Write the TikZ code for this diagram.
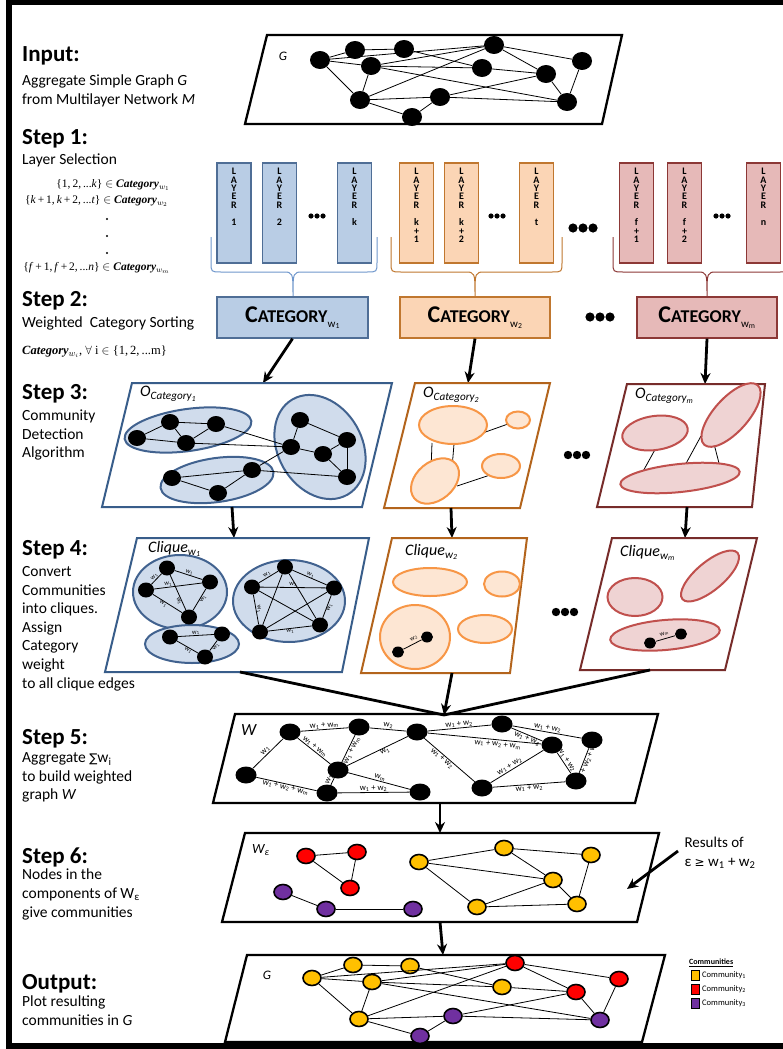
\documentclass[tikz,border=0pt]{standalone}
\usepackage{fontspec}
\setmainfont{Carlito}
\newfontfamily\tms{Liberation Serif}
\newfontfamily\djv{DejaVu Sans}
\usetikzlibrary{shapes.geometric,arrows.meta}
\definecolor{bfill}{HTML}{B9CDE5}
\definecolor{bdraw}{HTML}{4F6E96}
\definecolor{bline}{HTML}{385D8A}
\definecolor{bell}{HTML}{D0DCEC}
\definecolor{bedge}{HTML}{41628F}
\definecolor{bbrace}{HTML}{6F97CC}
\definecolor{ofill}{HTML}{FBD5B5}
\definecolor{odraw}{HTML}{C0772F}
\definecolor{oline}{HTML}{B3641C}
\definecolor{oell}{HTML}{FDE6D3}
\definecolor{oedge}{HTML}{F79646}
\definecolor{rfill}{HTML}{E6B9B8}
\definecolor{rdraw}{HTML}{8C3836}
\definecolor{rline}{HTML}{772C2A}
\definecolor{rell}{HTML}{EFD3D3}
\definecolor{redge}{HTML}{C0504D}
\definecolor{cyel}{HTML}{FFC000}
\definecolor{cred}{HTML}{FF0000}
\definecolor{cpur}{HTML}{7030A0}
\newcommand\threedots[4]{\fill (#1-#4,#2) circle[radius=#3]; \fill (#1,#2) circle[radius=#3]; \fill (#1+#4,#2) circle[radius=#3];}
\newcommand\catlab[1]{\textbf{{\fontsize{24}{24}\selectfont C}{\fontsize{18}{18}\selectfont ATEGORY}}\raisebox{-5pt}{\fontsize{11}{11}\selectfont w\textsubscript{#1}}}
\newcommand\wsub[1]{w\textsubscript{#1}}
\newcommand\catw[1]{{\tms\bfseries\itshape Category}$_{w_{#1}}$}
\tikzset{
  head/.style={anchor=west,inner sep=0,font=\fontsize{23}{25}\selectfont\bfseries},
  sub/.style={anchor=west,inner sep=0,align=left,font=\fontsize{15.5}{18.6}\selectfont},
  mth/.style={inner sep=0,font=\tms\fontsize{11.5}{13}\selectfont},
  bn/.style={ellipse,fill=black,inner sep=0,minimum width=20,minimum height=18},
  sn/.style={ellipse,fill=black,inner sep=0,minimum width=18,minimum height=16},
  kn/.style={ellipse,fill=black,inner sep=0,minimum width=16,minimum height=15},
  tn/.style={ellipse,fill=black,inner sep=0,minimum width=12,minimum height=11},
  wn/.style={ellipse,fill=black,inner sep=0,minimum width=21,minimum height=17},
  cn/.style={ellipse,draw=black,line width=1.6,inner sep=0,minimum width=18,minimum height=15},
  ed/.style={line width=0.8},
  panel/.style={line width=2.3,line join=miter},
  bigarrow/.style={line width=2.8,-{Stealth[length=11,width=10]}},
  lbar/.style={rectangle,inner sep=0,minimum width=34,minimum height=100,line width=1.3},
  ltxt/.style={anchor=north,inner sep=0,align=center,font=\fontsize{10}{8.4}\selectfont\bfseries},
  catbox/.style={rectangle,inner sep=0,minimum height=41,line width=1.3},
  wl/.style={font=\fontsize{8.5}{8.5}\selectfont,inner sep=0.6,sloped},
  ws/.style={font=\fontsize{6.5}{6.5}\selectfont,inner sep=0.3,sloped},
  ttl/.style={anchor=west,inner sep=0,font=\fontsize{16}{16}\selectfont\itshape},
}
\begin{document}
\begin{tikzpicture}[x=1pt,y=-1pt]
\useasboundingbox (0,0) rectangle (783,1049);
\clip (0,0) rectangle (783,1049);
\fill[white] (0,0) rectangle (783,1049);
\draw[line width=6] (9,2) rectangle (805,1046);

% ---------------- left column ----------------
\node[head] (h0) at (22,56) {Input:};
\node[sub] (s0) at (22,91) {Aggregate Simple Graph \textit{G}\\from Multilayer Network \textit{M}};
\node[head] (h1) at (22,139) {Step 1:};
\node[sub] (s1) at (22,160) {Layer Selection};
\node[mth,anchor=east] (m1) at (170,185) {\{1,\,2,\,...\textit{k}\} $\in$ \catw{1}};
\node[mth,anchor=east] (m2) at (168,201) {\{\textit{k}\,+\,1,\,\textit{k}\,+\,2,\,...\textit{t}\} $\in$ \catw{2}};
\fill (107,219) circle[radius=1.1]; \fill (107,236) circle[radius=1.1]; \fill (107,253) circle[radius=1.1];
\node[mth,anchor=east] (m3) at (170,268) {\{\textit{f}\,+\,1,\,\textit{f}\,+\,2,\,...\textit{n}\} $\in$ \catw{m}};
\node[head] (h2) at (22,301) {Step 2:};
\node[sub] (s2) at (22,323) {Weighted\ \ Category Sorting};
\node[mth,anchor=west,font=\tms\fontsize{12.5}{14}\selectfont] (m5) at (22,352) {\catw{i}, $\forall$ i $\in$ \{1,\,2,\,...m\}};
\node[head] (h3) at (22,394) {Step 3:};
\node[sub] (s3) at (22,435) {Community\\Detection\\Algorithm};
\node[head] (h4) at (22,550) {Step 4:};
\node[sub] (s4) at (22,628.5) {Convert\\Communities\\into cliques.\\Assign\\Category\\weight\\to all clique edges};
\node[head] (h5) at (22,739) {Step 5:};
\node[sub] (s5) at (22,777.5) {Aggregate {\djv\fontsize{12}{12}\selectfont ∑}w\textsubscript{i}\\to build weighted\\graph \textit{W}};
\node[head] (h6) at (22,857) {Step 6:};
\node[sub] (s6) at (22,894.5) {Nodes in the\\components of W\textsubscript{ε}\\give communities};
\node[head] (h7) at (22,984) {Output:};
\node[sub] (s7) at (22,1010.5) {Plot resulting\\communities in \textit{G}};

% ---------------- Input graph ----------------
\draw[panel] (267,35) -- (622,35) -- (602,124) -- (245,124) -- cycle;
\node[inner sep=0,font=\fontsize{13}{13}\selectfont\itshape] (gin) at (283,56) {G};
\node[bn] (n1) at (320,60) {};
\node[bn] (n2) at (355,50) {};
\node[bn] (n3) at (404,49) {};
\node[bn] (n4) at (494,45) {};
\node[bn] (n5) at (582,61) {};
\node[bn] (n6) at (371,66) {};
\node[bn] (n7) at (482,68) {};
\node[bn] (n8) at (546,74) {};
\node[bn] (n9) at (360,100) {};
\node[bn] (n10) at (440,97) {};
\node[bn] (n11) at (567,102) {};
\node[bn] (n12) at (412,117) {};
\foreach \a/\b in {n1/n2,n2/n3,n1/n6,n1/n9,n1/n4,n3/n7,n6/n7,n6/n4,n6/n9,n6/n11,n4/n5,n4/n8,n4/n9,n7/n8,n8/n10,n8/n11,n5/n11,n9/n10,n9/n12,n10/n12,n10/n11}
  \draw[ed] (\a) -- (\b);

% ---------------- Step 1 layers ----------------
\node[lbar,fill=bfill,draw=bdraw] (lb1) at (234,213) {};
\node[lbar,fill=bfill,draw=bdraw] (lb2) at (279.5,213) {};
\node[lbar,fill=bfill,draw=bdraw] (lb3) at (354.5,213) {};
\node[ltxt] (tb1) at (234,168) {L\\A\\Y\\E\\R\\[9pt]1};
\node[ltxt] (tb2) at (279.5,168) {L\\A\\Y\\E\\R\\[9pt]2};
\node[ltxt] (tb3) at (354.5,168) {L\\A\\Y\\E\\R\\[9pt]k};
\threedots{317}{216}{2.6}{6}
\node[lbar,fill=ofill,draw=odraw] (lo1) at (416.5,213) {};
\node[lbar,fill=ofill,draw=odraw] (lo2) at (461.5,213) {};
\node[lbar,fill=ofill,draw=odraw] (lo3) at (536.5,213) {};
\node[ltxt] (to1) at (416.5,168) {L\\A\\Y\\E\\R\\[9pt]k\\+\\1};
\node[ltxt] (to2) at (461.5,168) {L\\A\\Y\\E\\R\\[9pt]k\\+\\2};
\node[ltxt] (to3) at (536.5,168) {L\\A\\Y\\E\\R\\[9pt]t};
\threedots{497}{216}{2.6}{6}
\threedots{583}{228}{4.6}{10}
\node[lbar,fill=rfill,draw=rdraw] (lr1) at (636.5,213) {};
\node[lbar,fill=rfill,draw=rdraw] (lr2) at (684.5,213) {};
\node[lbar,fill=rfill,draw=rdraw] (lr3) at (763.5,213) {};
\node[ltxt] (tr1) at (636.5,168) {L\\A\\Y\\E\\R\\[9pt]f\\+\\1};
\node[ltxt] (tr2) at (684.5,168) {L\\A\\Y\\E\\R\\[9pt]f\\+\\2};
\node[ltxt] (tr3) at (763.5,168) {L\\A\\Y\\E\\R\\[9pt]n};
\threedots{722}{216}{2.6}{6}

% braces
\draw[bbrace,line width=1] (211,237) -- (211,262) .. controls (211,272) .. (221,272) -- (283,272) .. controls (293,272) .. (293,297) .. controls (293,272) .. (303,272) -- (367,272) .. controls (377,272) .. (377,262) -- (377,237);
\draw[odraw,line width=1] (391,237) -- (391,262) .. controls (391,272) .. (401,272) -- (465,272) .. controls (475,272) .. (475,297) .. controls (475,272) .. (485,272) -- (552,272) .. controls (562,272) .. (562,262) -- (562,237);
\draw[rdraw,line width=1] (613,237) -- (613,262) .. controls (613,272) .. (623,272) -- (697,272) .. controls (707,272) .. (707,297) .. controls (707,272) .. (717,272) -- (780,272) .. controls (790,272) .. (790,262) -- (790,237);

% ---------------- Step 2 categories ----------------
\node[catbox,fill=bfill,draw=bdraw,minimum width=151] (cb) at (292.5,317.5) {\catlab{1}};
\node[catbox,fill=ofill,draw=odraw,minimum width=150] (co) at (475,317.5) {\catlab{2}};
\node[catbox,fill=rfill,draw=rdraw,minimum width=140] (cr) at (707,317.5) {\catlab{m}};
\threedots{600}{317}{4.6}{10}

\coordinate (a3b) at (263,383);
\coordinate (a3o) at (468,383);
\coordinate (a3r) at (705,384);
\draw[bigarrow] (cb.south) -- (a3b);
\draw[bigarrow] (co.south) -- (a3o);
\draw[bigarrow] (cr.south) -- (a3r);

% ---------------- Step 3 ----------------
\draw[panel,draw=bline,line width=2] (132,383) -- (392,383) -- (362,507) -- (102,507) -- cycle;
\node[ttl] (o1) at (140,394) {O\textsubscript{Category\textsubscript{1}}};
\filldraw[fill=bell,draw=bedge,line width=2,rotate around={8:(188,430)}] (188,430) ellipse [x radius=64,y radius=21];
\filldraw[fill=bell,draw=bedge,line width=2,rotate around={-60:(320,447)}] (320,447) ellipse [x radius=55,y radius=42];
\filldraw[fill=bell,draw=bedge,line width=2,rotate around={8:(217,480)}] (217,480) ellipse [x radius=57,y radius=22];
\node[sn] (u1) at (137,438) {};
\node[sn] (u2) at (170,422) {};
\node[sn] (u3) at (216,424) {};
\node[sn] (u4) at (186,443) {};
\node[sn] (u5) at (300,420) {};
\node[sn] (u6) at (347,440) {};
\node[sn] (u7) at (291,447) {};
\node[sn] (u8) at (323,454) {};
\node[sn] (u9) at (347,477) {};
\node[sn] (u10) at (172,478) {};
\node[sn] (u11) at (252,470) {};
\node[sn] (u12) at (218,493) {};
\foreach \a/\b in {u1/u2,u2/u3,u2/u4,u4/u3,u1/u4,u3/u7,u4/u7,u5/u6,u5/u7,u7/u8,u8/u6,u6/u9,u8/u9,u10/u11,u10/u12,u12/u11,u11/u7,u11/u9}
  \draw[ed] (\a) -- (\b);

\draw[panel,draw=oline,line width=2] (415,383) -- (550,383) -- (520,508) -- (384,508) -- cycle;
\node[ttl] (o2) at (423,395) {O\textsubscript{Category\textsubscript{2}}};
\coordinate (oa1) at (477,435); \coordinate (oa2) at (508,424);
\coordinate (oa3) at (432,443); \coordinate (oa4) at (431,470);
\coordinate (oa5) at (454,444); \coordinate (oa6) at (452,468);
\coordinate (oa7) at (457,486); \coordinate (oa8) at (490,475);
\draw[ed] (oa1) -- (oa2); \draw[ed] (oa3) -- (oa4); \draw[ed] (oa5) -- (oa6); \draw[ed] (oa7) -- (oa8);
\filldraw[fill=oell,draw=oedge,line width=2] (453,425) ellipse [x radius=34,y radius=19];
\filldraw[fill=oell,draw=oedge,line width=2] (518,420) ellipse [x radius=12,y radius=8.5];
\filldraw[fill=oell,draw=oedge,line width=2,rotate around={40:(435,481)}] (435,481) ellipse [x radius=27,y radius=19];
\filldraw[fill=oell,draw=oedge,line width=2] (501,466) ellipse [x radius=19,y radius=12];

\draw[panel,draw=rline,line width=2] (627,384) -- (765,384) -- (752,507) -- (597,507) -- cycle;
\node[ttl] (o3) at (635,396) {O\textsubscript{Category\textsubscript{m}}};
\coordinate (ra1) at (657,446); \coordinate (ra2) at (641,475);
\coordinate (ra3) at (701,436); \coordinate (ra4) at (683,469);
\coordinate (ra5) at (713,440); \coordinate (ra6) at (720,467);
\draw[ed] (ra1) -- (ra2); \draw[ed] (ra3) -- (ra4); \draw[ed] (ra5) -- (ra6);
\filldraw[fill=rell,draw=redge,line width=2,rotate around={8:(655,433)}] (655,433) ellipse [x radius=33,y radius=17];
\filldraw[fill=rell,draw=redge,line width=2,rotate around={48:(731,415)}] (731,415) ellipse [x radius=40,y radius=17];
\filldraw[fill=rell,draw=redge,line width=2,rotate around={6:(680,478)}] (680,478) ellipse [x radius=60,y radius=14];
\threedots{577}{455}{4.2}{9}

\coordinate (b3b) at (232,507); \coordinate (b4b) at (234,538);
\coordinate (b3o) at (451,508); \coordinate (b4o) at (452,538);
\coordinate (b3r) at (687,507); \coordinate (b4r) at (685,538);
\draw[bigarrow] (b3b) -- (b4b);
\draw[bigarrow] (b3o) -- (b4o);
\draw[bigarrow] (b3r) -- (b4r);

% ---------------- Step 4 ----------------
\draw[panel,draw=bline,line width=2] (137,538) -- (369,538) -- (342,672) -- (105,672) -- cycle;
\node[ttl] (c1t) at (148,549) {Clique\textsubscript{w\textsubscript{1}}};
\filldraw[fill=bell,draw=bedge,line width=2] (180,592) ellipse [x radius=47,y radius=37];
\filldraw[fill=bell,draw=bedge,line width=2] (289,601) ellipse [x radius=56,y radius=41];
\filldraw[fill=bell,draw=bedge,line width=2] (192,644) ellipse [x radius=47,y radius=19];
\node[kn] (q1) at (167,568) {};
\node[kn] (q2) at (210,582) {};
\node[kn] (q3) at (146,590) {};
\node[kn] (q4) at (189,617) {};
\draw[ed] (q1) -- node[ws,above]{\wsub{1}} (q2);
\draw[ed] (q1) -- node[ws,above]{\wsub{1}} (q3);
\draw[ed] (q3) -- node[ws,above,pos=0.3]{\wsub{1}} (q2);
\draw[ed] (q1) -- node[ws,below,pos=0.72]{\wsub{1}} (q4);
\draw[ed] (q2) -- node[ws,below,pos=0.4]{\wsub{1}} (q4);
\draw[ed] (q3) -- node[ws,below,pos=0.4]{\wsub{1}} (q4);
\node[kn] (p1) at (285,567) {};
\node[kn] (p2) at (334,588) {};
\node[kn] (p3) at (252,587) {};
\node[kn] (p4) at (260,632) {};
\node[kn] (p5) at (320,625) {};
\draw[ed] (p1) -- node[ws,above]{\wsub{1}} (p2);
\draw[ed] (p1) -- node[ws,above]{\wsub{1}} (p3);
\draw[ed] (p3) -- node[ws,above]{\wsub{1}} (p2);
\draw[ed] (p3) -- node[ws,above]{\wsub{1}} (p4);
\draw[ed] (p2) -- node[ws,below]{\wsub{1}} (p5);
\draw[ed] (p4) -- node[ws,below]{\wsub{1}} (p5);
\draw[ed] (p1) -- (p4); \draw[ed] (p1) -- (p5); \draw[ed] (p3) -- (p5); \draw[ed] (p2) -- (p4);
\node[kn] (t1) at (170,637) {};
\node[kn] (t2) at (222,634) {};
\node[kn] (t3) at (205,657) {};
\draw[ed] (t1) -- node[ws,above]{\wsub{1}} (t2);
\draw[ed] (t1) -- node[ws,below,pos=0.6]{\wsub{1}} (t3);
\draw[ed] (t2) -- node[ws,below,pos=0.45]{\wsub{1}} (t3);

\draw[panel,draw=oline,line width=2] (392,538) -- (527,538) -- (510,673) -- (361,673) -- cycle;
\node[ttl] (c2t) at (405,552) {Clique\textsubscript{w\textsubscript{2}}};
\filldraw[fill=oell,draw=oedge,line width=2] (430,582) ellipse [x radius=37,y radius=14];
\filldraw[fill=oell,draw=oedge,line width=2] (502,584) ellipse [x radius=18,y radius=12.5];
\filldraw[fill=oell,draw=oedge,line width=2] (415,637) ellipse [x radius=35,y radius=32];
\filldraw[fill=oell,draw=oedge,line width=2] (485,629) ellipse [x radius=27,y radius=14];
\node[tn] (v1) at (427,637) {};
\node[tn] (v2) at (398,652) {};
\draw[ed] (v2) -- node[ws,above,pos=0.7,yshift=2]{\wsub{2}} (v1);

\draw[panel,draw=rline,line width=2] (612,538) -- (757,538) -- (725,670) -- (580,670) -- cycle;
\node[ttl] (c3t) at (620,553) {Clique\textsubscript{w\textsubscript{m}}};
\filldraw[fill=rell,draw=redge,line width=2] (635,597) ellipse [x radius=27.5,y radius=19];
\filldraw[fill=rell,draw=redge,line width=2,rotate around={40:(710,576)}] (710,576) ellipse [x radius=36,y radius=14];
\filldraw[fill=rell,draw=redge,line width=2,rotate around={5:(665,635)}] (665,635) ellipse [x radius=55,y radius=15];
\node[tn] (x1) at (650,643) {};
\node[tn] (x2) at (681,634) {};
\draw[ed] (x1) -- node[ws,above,yshift=2]{\wsub{m}} (x2);
\threedots{565}{612}{4.2}{9}

\coordinate (c4b) at (240,672);
\coordinate (c4o) at (452,673);
\coordinate (c4r) at (650,670);
\coordinate (tip5) at (444,715);
\draw[line width=2.8] (c4b) -- (tip5);
\draw[line width=2.8] (c4r) -- (tip5);
\draw[bigarrow] (c4o) -- (tip5);

% ---------------- Step 5 ----------------
\draw[panel] (235,714) -- (658,714) -- (635,803) -- (213,803) -- cycle;
\node[ttl,font=\fontsize{17}{17}\selectfont\itshape] (wt) at (241,730) {W};
\node[wn] (a) at (290,732) {};
\node[wn] (b) at (359,727) {};
\node[wn] (c) at (417,732) {};
\node[wn] (d) at (502,724) {};
\node[wn] (e) at (592,740) {};
\node[wn] (f) at (552,745) {};
\node[wn] (g) at (246,775) {};
\node[wn] (h) at (338,770) {};
\node[wn] (i) at (327,793) {};
\node[wn] (j) at (420,792) {};
\node[wn] (k) at (482,788) {};
\node[wn] (l) at (576,781) {};
\draw[ed] (a) -- node[wl,above]{\wsub{1} + \wsub{m}} (b);
\draw[ed] (b) -- node[wl,above]{\wsub{2}} (c);
\draw[ed] (c) -- node[wl,above]{\wsub{1} + \wsub{2}} (d);
\draw[ed] (d) -- node[wl,above]{\wsub{1} + \wsub{2}} (e);
\draw[ed] (a) -- node[wl,above]{\wsub{1}} (g);
\draw[ed] (a) -- node[wl,above,pos=0.45]{\wsub{1} + \wsub{m}} (h);
\draw[ed] (b) -- node[wl,below]{\wsub{1} + \wsub{m}} (h);
\draw[ed] (c) -- node[wl,below,pos=0.4]{\wsub{1}} (h);
\draw[ed] (c) -- node[wl,below,pos=0.4]{\wsub{1} + \wsub{2}} (k);
\draw[ed] (c) -- node[wl,below,pos=0.62,yshift=-1]{\wsub{1} + \wsub{2} + \wsub{m}} (f);
\draw[ed] (d) -- node[wl,below,pos=0.55]{\wsub{1} + \wsub{2}} (f);
\draw[ed] (f) -- node[wl,above,pos=0.45]{\wsub{1} + \wsub{2}} (l);
\draw[ed] (e) -- node[wl,below]{\wsub{1} + \wsub{2} + \wsub{m}} (l);
\draw[ed] (f) -- node[wl,above,pos=0.6]{\wsub{1} + \wsub{2}} (k);
\draw[ed] (k) -- node[wl,below]{\wsub{1} + \wsub{2}} (l);
\draw[ed] (g) -- node[wl,below]{\wsub{1} + \wsub{2} + \wsub{m}} (i);
\draw[ed] (h) -- node[wl,above]{\wsub{1}} (i);
\draw[ed] (h) -- node[wl,above]{\wsub{m}} (j);
\draw[ed] (i) -- node[wl,above]{\wsub{1} + \wsub{2}} (j);

\coordinate (s5b) at (440,803); \coordinate (s6t) at (440,833);
\draw[bigarrow] (s5b) -- (s6t);

% ---------------- Step 6 ----------------
\draw[panel] (245,833) -- (659,833) -- (637,922) -- (222,922) -- cycle;
\node[ttl,font=\fontsize{14}{14}\selectfont\itshape] (we) at (252,850) {W\textsubscript{ε}};
\node[cn,fill=cred] (r1) at (306,856) {};
\node[cn,fill=cred] (r2) at (357,852) {};
\node[cn,fill=cred] (r3) at (350,888) {};
\node[cn,fill=cpur] (pp1) at (283,892) {};
\node[cn,fill=cpur] (pp2) at (326,909) {};
\node[cn,fill=cpur] (pp3) at (413,909) {};
\node[cn,fill=cyel] (y1) at (419,862) {};
\node[cn,fill=cyel] (y2) at (504,848) {};
\node[cn,fill=cyel] (y3) at (591,855) {};
\node[cn,fill=cyel] (y4) at (553,880) {};
\node[cn,fill=cyel] (y5) at (477,907) {};
\node[cn,fill=cyel] (y6) at (577,904) {};
\foreach \a/\b in {r1/r2,r2/r3,r1/r3,pp1/pp2,pp2/pp3,y1/y2,y2/y3,y1/y4,y1/y5,y2/y4,y4/y5,y4/y6,y3/y6,y5/y6}
  \draw[ed] (\a) -- (\b);
\node[align=left,inner sep=0,font=\fontsize{15}{19}\selectfont] (res) at (720,853) {Results of\\ε {\djv\fontsize{12}{12}\selectfont ≥} w\textsubscript{1} + w\textsubscript{2}};
\coordinate (ra) at (678,851); \coordinate (rb) at (627,889);
\draw[bigarrow] (ra) -- (rb);

\coordinate (s6b) at (440,922); \coordinate (s7t) at (443,955);
\draw[bigarrow] (s6b) -- (s7t);

% ---------------- Output ----------------
\draw[panel] (247,955) -- (665,955) -- (642,1042) -- (225,1042) -- cycle;
\node[inner sep=0,font=\fontsize{13}{13}\selectfont\itshape] (gout) at (267,975) {G};
\node[cn,fill=cyel] (o1n) at (312,978) {};
\node[cn,fill=cyel] (o2n) at (353,965) {};
\node[cn,fill=cyel] (o3n) at (410,966) {};
\node[cn,fill=cred] (o4n) at (515,963) {};
\node[cn,fill=cred] (o5n) at (619,979) {};
\node[cn,fill=cyel] (o6n) at (372,982) {};
\node[cn,fill=cyel] (o7n) at (502,987) {};
\node[cn,fill=cred] (o8n) at (576,992) {};
\node[cn,fill=cyel] (o9n) at (359,1019) {};
\node[cn,fill=cpur] (o10n) at (453,1016) {};
\node[cn,fill=cpur] (o11n) at (600,1020) {};
\node[cn,fill=cpur] (o12n) at (420,1036) {};
\foreach \a/\b in {o1n/o2n,o2n/o3n,o1n/o6n,o1n/o9n,o1n/o4n,o3n/o7n,o6n/o7n,o6n/o4n,o6n/o9n,o6n/o11n,o4n/o5n,o4n/o8n,o4n/o9n,o7n/o8n,o8n/o10n,o8n/o11n,o5n/o11n,o9n/o10n,o9n/o12n,o10n/o12n,o10n/o11n}
  \draw[ed] (\a) -- (\b);

% legend
\node[anchor=west,inner sep=0,font=\fontsize{8}{8}\selectfont\bfseries] (lgt) at (689,963) {\underline{Communities}};
\node[draw,fill=cyel,line width=1,minimum width=8,minimum height=10,inner sep=0] (lg1) at (695,975) {};
\node[draw,fill=cred,line width=1,minimum width=8,minimum height=10,inner sep=0] (lg2) at (695,989) {};
\node[draw,fill=cpur,line width=1,minimum width=8,minimum height=10,inner sep=0] (lg3) at (695,1003) {};
\node[anchor=west,inner sep=0,font=\fontsize{8.5}{8.5}\selectfont] (lt1) at (702,975) {Community\textsubscript{1}};
\node[anchor=west,inner sep=0,font=\fontsize{8.5}{8.5}\selectfont] (lt2) at (702,989) {Community\textsubscript{2}};
\node[anchor=west,inner sep=0,font=\fontsize{8.5}{8.5}\selectfont] (lt3) at (702,1003) {Community\textsubscript{3}};
\end{tikzpicture}
\end{document}
